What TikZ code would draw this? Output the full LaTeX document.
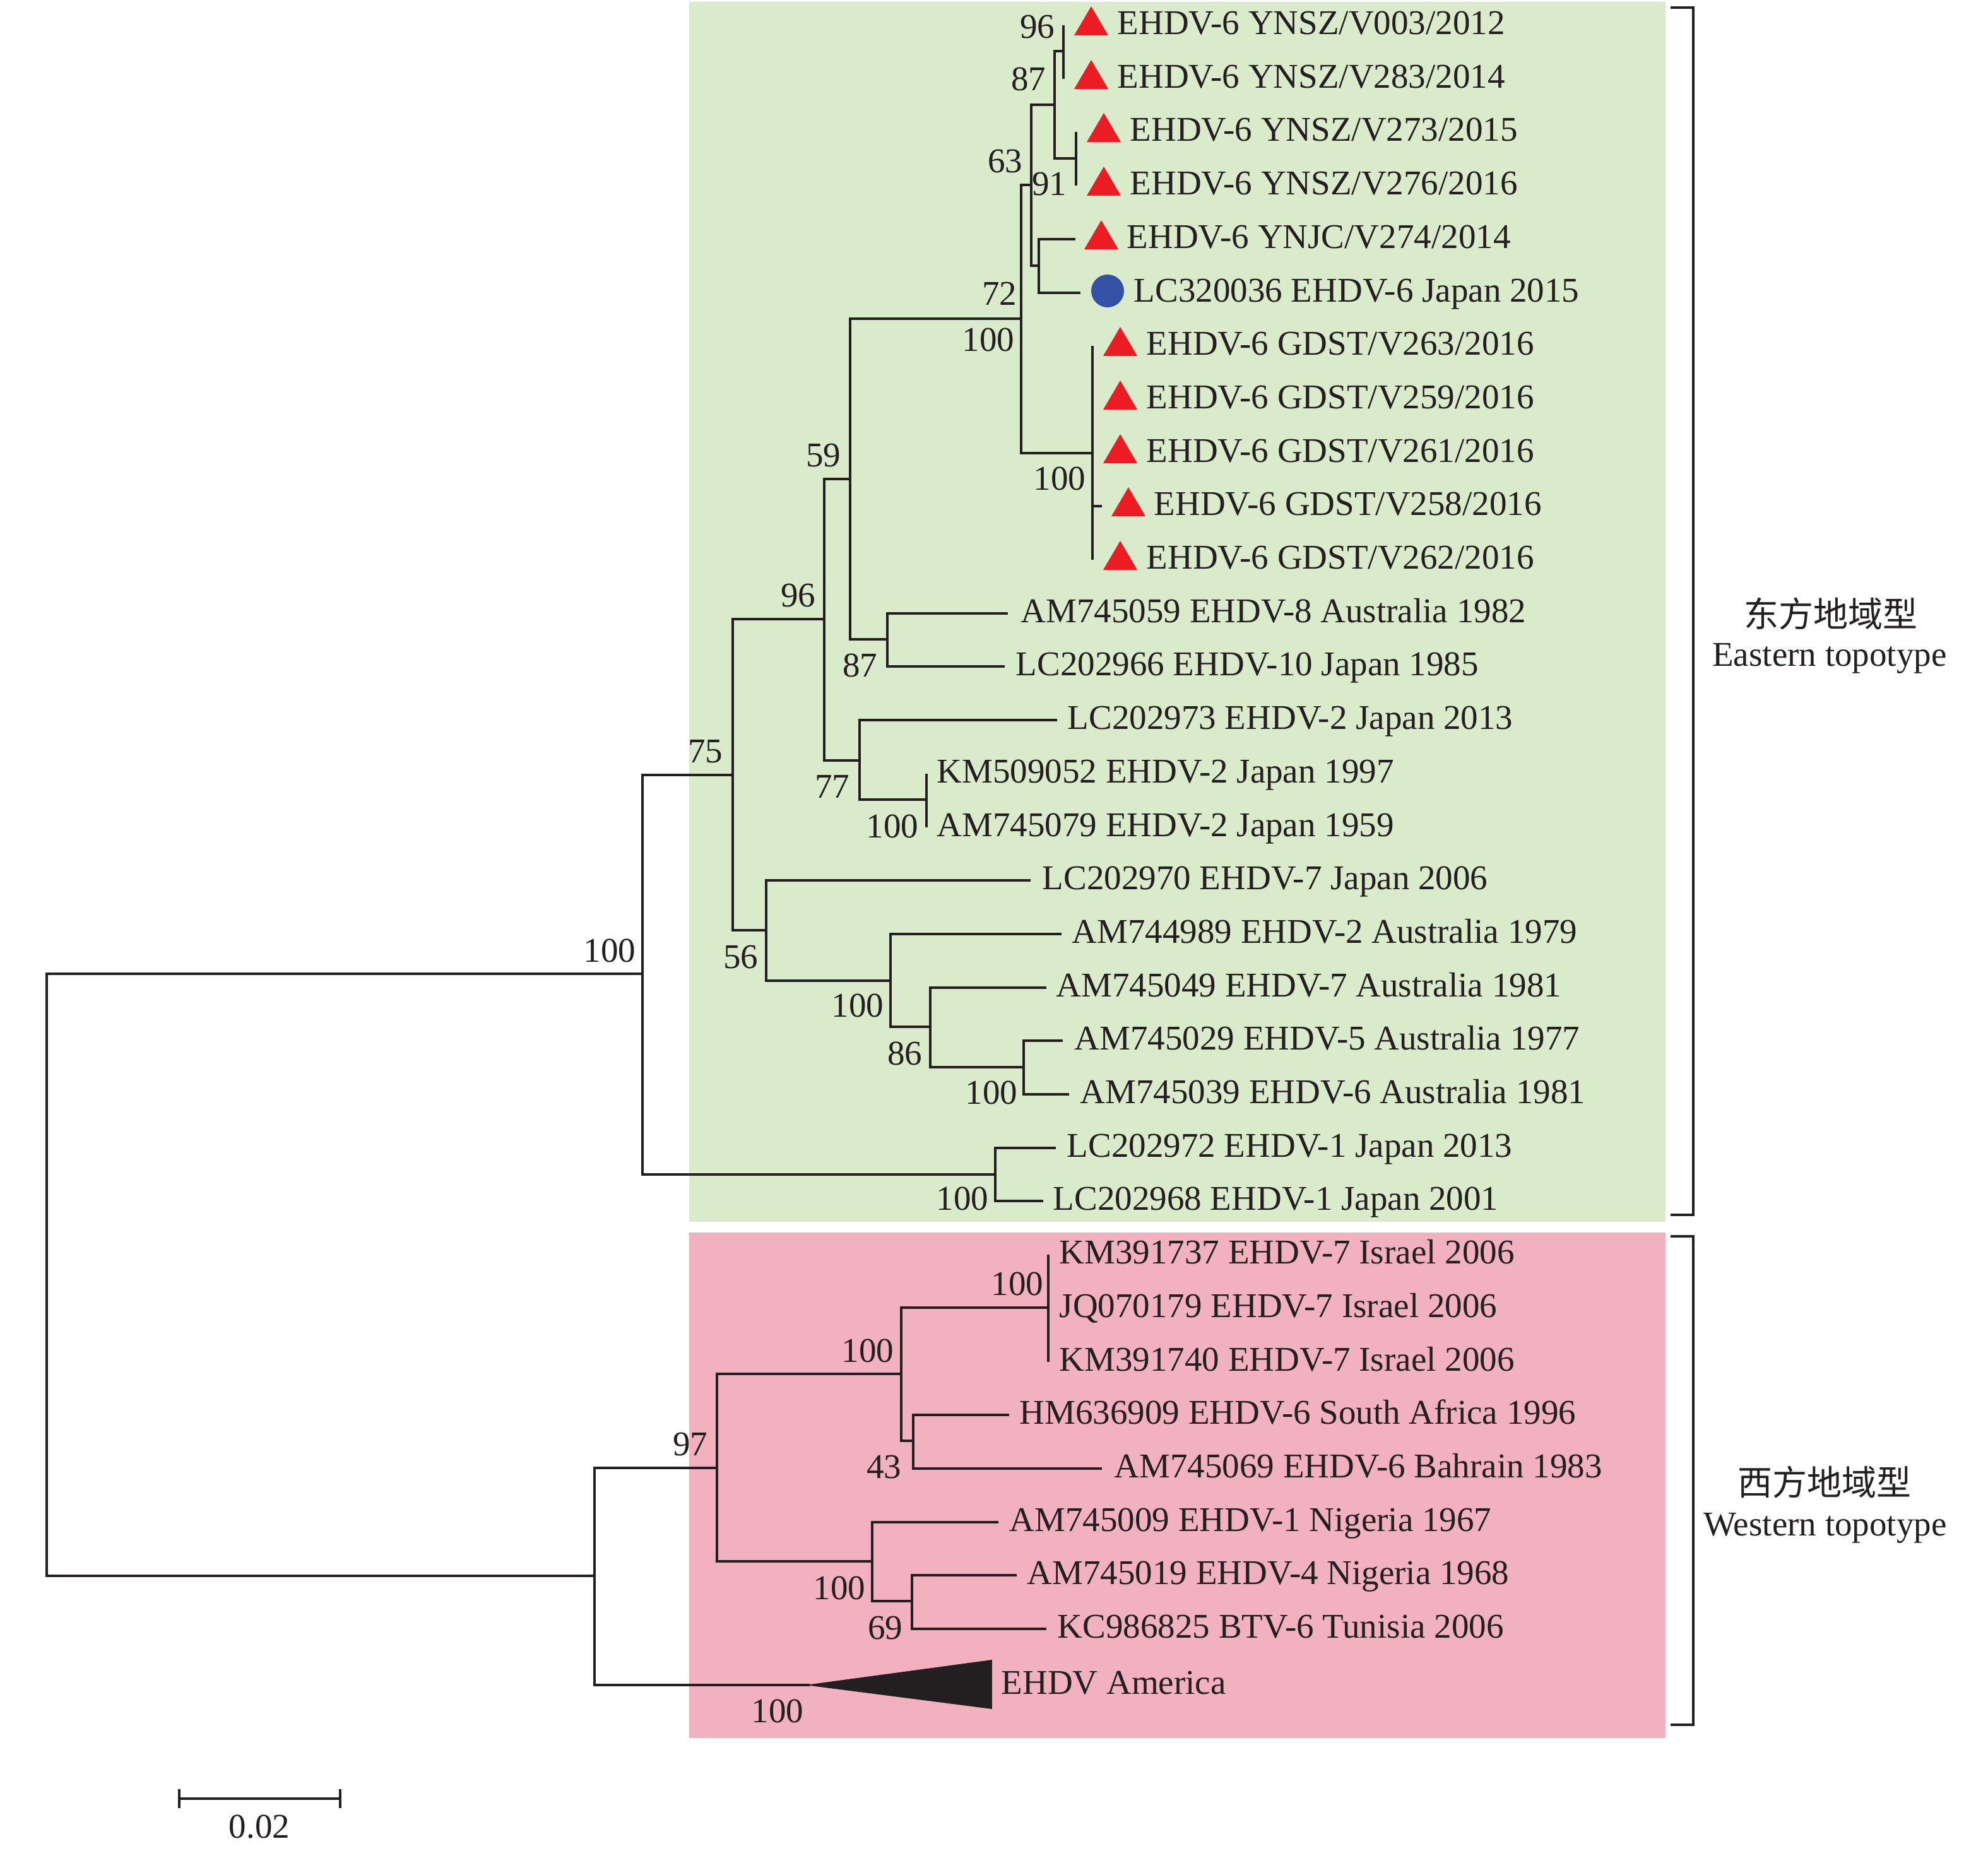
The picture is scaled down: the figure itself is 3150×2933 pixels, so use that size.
\documentclass[tikz,border=0pt]{standalone}
\usepackage{fontspec}
\setmainfont{Liberation Serif}
\newfontfamily\cjkfont{Noto Sans CJK SC}
\definecolor{eastbg}{HTML}{DAEBCB}
\definecolor{westbg}{HTML}{F1B1BE}
\definecolor{trired}{HTML}{EC1C24}
\definecolor{dotblue}{HTML}{3451A5}
\definecolor{ink}{HTML}{231F20}
\tikzset{
  branch/.style={draw=ink, line width=1pt},
  bracketline/.style={draw=ink, line width=1.3pt},
  leaflab/.style={anchor=base west, inner sep=0pt, yshift=-0.14cm, text=ink, font=\fontsize{15.65}{18}\selectfont},
  bs/.style={anchor=base east, inner sep=0pt, xshift=0.03cm, yshift=-0.19cm, text=ink, font=\fontsize{15.65}{18}\selectfont},
  grouplab/.style={anchor=center, inner sep=0pt, text=ink, font=\fontsize{15.65}{18}\selectfont},
  redtri/.pic={\fill[trired] (-27,16) -- (27,16) -- (0,-30) -- cycle;},
}
\begin{document}
\begin{tikzpicture}[x=0.01cm, y=-0.01cm]
\useasboundingbox (0,0) rectangle (3150,2933);
\fill[white] (0,0) rectangle (3150,2933);
\fill[eastbg] (1092,3) rectangle (2639,1936);
\fill[westbg] (1092,1953) rectangle (2639,2754);

% ---------- internal nodes ----------
\coordinate (root) at (74,2020);
\coordinate (Er) at (1018,1543);
\coordinate (L) at (1161,1228);
\coordinate (I) at (1306,981);
\coordinate (G) at (1347,759);
\coordinate (F) at (1618,505);
\coordinate (D) at (1634,293);
\coordinate (B) at (1671,166);
\coordinate (A) at (1685,81);
\coordinate (C) at (1705,251);
\coordinate (E) at (1646,421);
\coordinate (GD) at (1731,718);
\coordinate (H) at (1406,1013);
\coordinate (J) at (1362,1205);
\coordinate (K) at (1468,1267);
\coordinate (M) at (1214,1474);
\coordinate (N) at (1411,1554);
\coordinate (O) at (1474,1627);
\coordinate (P) at (1622,1691);
\coordinate (Q) at (1577,1861);
\coordinate (Wr) at (942,2497);
\coordinate (U) at (1136,2326);
\coordinate (S) at (1428,2177);
\coordinate (R) at (1661,2072);
\coordinate (T) at (1447,2283);
\coordinate (V) at (1382,2474);
\coordinate (W) at (1445,2537);

% ---------- leaf tips ----------
\coordinate (l0) at (1685,40);
\coordinate (l1) at (1685,125);
\coordinate (l2) at (1705,209);
\coordinate (l3) at (1705,294);
\coordinate (l4) at (1704,379);
\coordinate (l5) at (1712,464);
\coordinate (l6) at (1731,548);
\coordinate (l7) at (1731,633);
\coordinate (l8) at (1731,718);
\coordinate (l9) at (1746,802);
\coordinate (l10) at (1731,887);
\coordinate (l11) at (1597,972);
\coordinate (l12) at (1592,1056);
\coordinate (l13) at (1675,1141);
\coordinate (l14) at (1468,1226);
\coordinate (l15) at (1468,1311);
\coordinate (l16) at (1633,1395);
\coordinate (l17) at (1682,1480);
\coordinate (l18) at (1658,1565);
\coordinate (l19) at (1684,1649);
\coordinate (l20) at (1694,1734);
\coordinate (l21) at (1673,1819);
\coordinate (l22) at (1653,1903);
\coordinate (l23) at (1661,1988);
\coordinate (l24) at (1661,2073);
\coordinate (l25) at (1661,2158);
\coordinate (l26) at (1599,2242);
\coordinate (l27) at (1746,2327);
\coordinate (l28) at (1582,2412);
\coordinate (l29) at (1611,2496);
\coordinate (l30) at (1658,2581);
\coordinate (amtip) at (1283,2670);

% ---------- branches ----------
\draw[branch] (root) |- (Er);
\draw[branch] (root) |- (Wr);
\draw[branch] (Er) |- (L);
\draw[branch] (Er) |- (Q);
\draw[branch] (L) |- (I);
\draw[branch] (L) |- (M);
\draw[branch] (I) |- (G);
\draw[branch] (I) |- (J);
\draw[branch] (G) |- (F);
\draw[branch] (G) |- (H);
\draw[branch] (F) |- (D);
\draw[branch] (F) |- (GD);
\draw[branch] (D) |- (B);
\draw[branch] (D) |- (E);
\draw[branch] (B) |- (A);
\draw[branch] (B) |- (C);
\draw[branch] (A) |- (l0);
\draw[branch] (A) |- (l1);
\draw[branch] (C) |- (l2);
\draw[branch] (C) |- (l3);
\draw[branch] (E) |- (l4);
\draw[branch] (E) |- (l5);
\draw[branch] (GD) |- (l6);
\draw[branch] (GD) |- (l7);
\draw[branch] (GD) |- (l8);
\draw[branch] (GD) |- (l9);
\draw[branch] (GD) |- (l10);
\draw[branch] (H) |- (l11);
\draw[branch] (H) |- (l12);
\draw[branch] (J) |- (l13);
\draw[branch] (J) |- (K);
\draw[branch] (K) |- (l14);
\draw[branch] (K) |- (l15);
\draw[branch] (M) |- (l16);
\draw[branch] (M) |- (N);
\draw[branch] (N) |- (l17);
\draw[branch] (N) |- (O);
\draw[branch] (O) |- (l18);
\draw[branch] (O) |- (P);
\draw[branch] (P) |- (l19);
\draw[branch] (P) |- (l20);
\draw[branch] (Q) |- (l21);
\draw[branch] (Q) |- (l22);
\draw[branch] (Wr) |- (U);
\draw[branch] (Wr) |- (amtip);
\draw[branch] (U) |- (S);
\draw[branch] (U) |- (V);
\draw[branch] (S) |- (R);
\draw[branch] (S) |- (T);
\draw[branch] (R) |- (l23);
\draw[branch] (R) |- (l24);
\draw[branch] (R) |- (l25);
\draw[branch] (T) |- (l26);
\draw[branch] (T) |- (l27);
\draw[branch] (V) |- (l28);
\draw[branch] (V) |- (W);
\draw[branch] (W) |- (l29);
\draw[branch] (W) |- (l30);

% collapsed America clade
\filldraw[fill=ink, draw=ink, line width=0.5pt] (amtip) -- (1571,2631) -- (1571,2707) -- cycle;

% ---------- markers ----------
\pic (m0) at (1729,40) {redtri};
\pic (m1) at (1729,125) {redtri};
\pic (m2) at (1749,209) {redtri};
\pic (m3) at (1749,294) {redtri};
\pic (m4) at (1745,379) {redtri};
\fill[dotblue] (1755,461) circle [radius=26];
\pic (m6) at (1775,548) {redtri};
\pic (m7) at (1775,633) {redtri};
\pic (m8) at (1775,718) {redtri};
\pic (m9) at (1788,802) {redtri};
\pic (m10) at (1775,887) {redtri};

% ---------- leaf labels ----------
\node[leaflab] (t0) at (1770,40) {EHDV-6 YNSZ/V003/2012};
\node[leaflab] (t1) at (1770,125) {EHDV-6 YNSZ/V283/2014};
\node[leaflab] (t2) at (1790,209) {EHDV-6 YNSZ/V273/2015};
\node[leaflab] (t3) at (1790,294) {EHDV-6 YNSZ/V276/2016};
\node[leaflab] (t4) at (1785,379) {EHDV-6 YNJC/V274/2014};
\node[leaflab] (t5) at (1796,464) {LC320036 EHDV-6 Japan 2015};
\node[leaflab] (t6) at (1816,548) {EHDV-6 GDST/V263/2016};
\node[leaflab] (t7) at (1816,633) {EHDV-6 GDST/V259/2016};
\node[leaflab] (t8) at (1816,718) {EHDV-6 GDST/V261/2016};
\node[leaflab] (t9) at (1828,802) {EHDV-6 GDST/V258/2016};
\node[leaflab] (t10) at (1816,887) {EHDV-6 GDST/V262/2016};
\node[leaflab] (t11) at (1617,972) {AM745059 EHDV-8 Australia 1982};
\node[leaflab] (t12) at (1609,1056) {LC202966 EHDV-10 Japan 1985};
\node[leaflab] (t13) at (1691,1141) {LC202973 EHDV-2 Japan 2013};
\node[leaflab] (t14) at (1484,1226) {KM509052 EHDV-2 Japan 1997};
\node[leaflab] (t15) at (1484,1311) {AM745079 EHDV-2 Japan 1959};
\node[leaflab] (t16) at (1651,1395) {LC202970 EHDV-7 Japan 2006};
\node[leaflab] (t17) at (1698,1480) {AM744989 EHDV-2 Australia 1979};
\node[leaflab] (t18) at (1673,1565) {AM745049 EHDV-7 Australia 1981};
\node[leaflab] (t19) at (1702,1649) {AM745029 EHDV-5 Australia 1977};
\node[leaflab] (t20) at (1711,1734) {AM745039 EHDV-6 Australia 1981};
\node[leaflab] (t21) at (1690,1819) {LC202972 EHDV-1 Japan 2013};
\node[leaflab] (t22) at (1668,1903) {LC202968 EHDV-1 Japan 2001};
\node[leaflab] (t23) at (1678,1988) {KM391737 EHDV-7 Israel 2006};
\node[leaflab] (t24) at (1678,2073) {JQ070179 EHDV-7 Israel 2006};
\node[leaflab] (t25) at (1678,2158) {KM391740 EHDV-7 Israel 2006};
\node[leaflab] (t26) at (1615,2242) {HM636909 EHDV-6 South Africa 1996};
\node[leaflab] (t27) at (1765,2327) {AM745069 EHDV-6 Bahrain 1983};
\node[leaflab] (t28) at (1599,2412) {AM745009 EHDV-1 Nigeria 1967};
\node[leaflab] (t29) at (1627,2496) {AM745019 EHDV-4 Nigeria 1968};
\node[leaflab] (t30) at (1675,2581) {KC986825 BTV-6 Tunisia 2006};
\node[leaflab] (t31) at (1586,2670) {EHDV America};

% ---------- bootstrap values ----------
\node[bs] (b1) at (1005,1505) {100};
\node[bs] (b2) at (1143,1189) {75};
\node[bs] (b3) at (1290,942) {96};
\node[bs] (b4) at (1330,720) {59};
\node[bs] (b5) at (1609,464) {72};
\node[bs] (b6) at (1605,537) {100};
\node[bs] (b7) at (1618,254) {63};
\node[bs] (b8) at (1655,124) {87};
\node[bs] (b9) at (1669,41) {96};
\node[bs] (b10) at (1688,290) {91};
\node[bs] (b11) at (1718,757) {100};
\node[bs] (b12) at (1388,1053) {87};
\node[bs] (b13) at (1344,1245) {77};
\node[bs] (b14) at (1453,1308) {100};
\node[bs] (b15) at (1199,1515) {56};
\node[bs] (b16) at (1398,1592) {100};
\node[bs] (b17) at (1459,1668) {86};
\node[bs] (b18) at (1610,1730) {100};
\node[bs] (b19) at (1564,1898) {100};
\node[bs] (b20) at (1651,2033) {100};
\node[bs] (b21) at (1414,2139) {100};
\node[bs] (b22) at (1426,2323) {43};
\node[bs] (b23) at (1119,2287) {97};
\node[bs] (b24) at (1369,2515) {100};
\node[bs] (b25) at (1428,2578) {69};
\node[bs] (b26) at (1271,2710) {100};

% ---------- group brackets ----------
\coordinate (eb1) at (2647,12);
\coordinate (eb2) at (2683,12);
\coordinate (eb3) at (2683,1925);
\coordinate (eb4) at (2647,1925);
\draw[bracketline] (eb1) -- (eb2) -- (eb3) -- (eb4);
\coordinate (wb1) at (2647,1959);
\coordinate (wb2) at (2683,1959);
\coordinate (wb3) at (2683,2733);
\coordinate (wb4) at (2647,2733);
\draw[bracketline] (wb1) -- (wb2) -- (wb3) -- (wb4);

\node[grouplab] (ecn) at (2901,972) {\cjkfont 东方地域型};
\node[grouplab] (een) at (2899,1043) {Eastern topotype};
\node[grouplab] (wcn) at (2891,2348) {\cjkfont 西方地域型};
\node[grouplab] (wen) at (2892,2421) {Western topotype};

% ---------- scale bar ----------
\coordinate (sbL) at (284,2850);
\coordinate (sbR) at (539,2850);
\draw[branch] (sbL) -- (sbR);
\draw[branch] ([yshift=0.15cm]sbL) -- ([yshift=-0.15cm]sbL);
\draw[branch] ([yshift=0.15cm]sbR) -- ([yshift=-0.15cm]sbR);
\node[grouplab] (sbt) at (411,2895) {0.02};
\end{tikzpicture}
\end{document}
